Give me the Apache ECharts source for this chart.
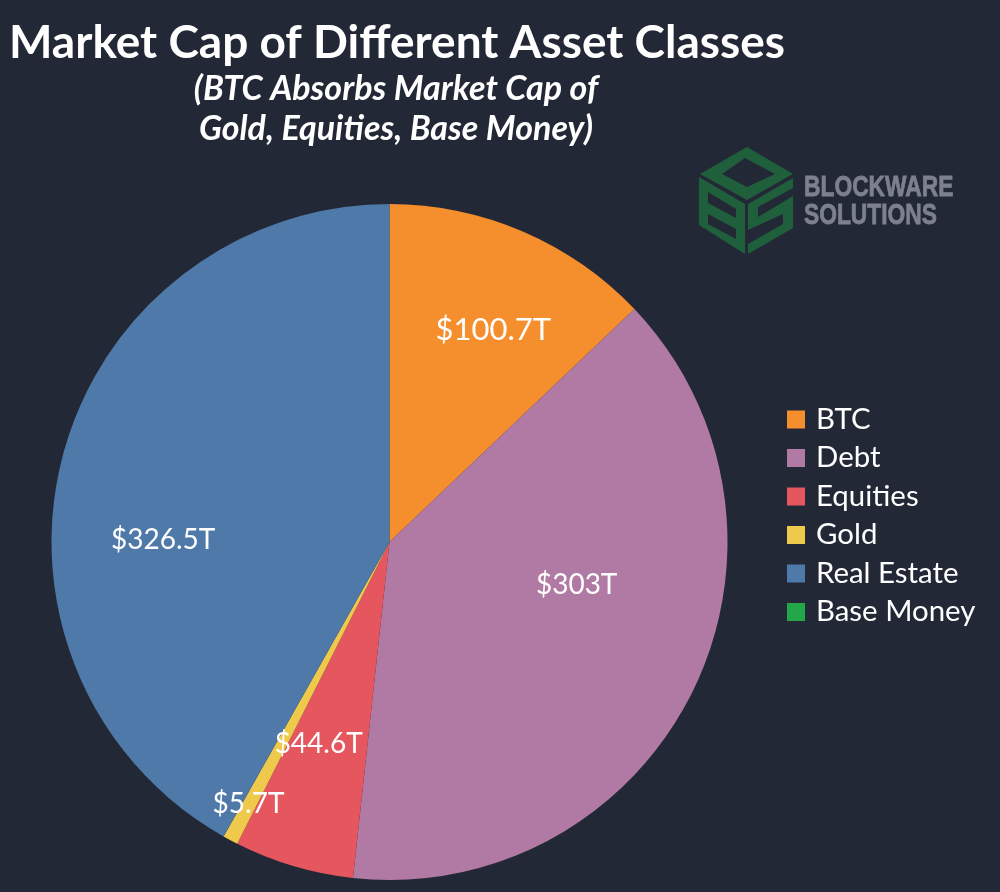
<!DOCTYPE html>
<html>
<head>
<meta charset="utf-8">
<title>Market Cap of Different Asset Classes</title>
<script src="https://cdn.jsdelivr.net/npm/echarts@6/dist/echarts.min.js"></script>
<style>
html, body { margin: 0; padding: 0; background: #232836; }
#chart { width: 1000px; height: 892px; }
</style>
</head>
<body>
<div id="chart"></div>
<script>
var assetNames = ['BTC', 'Debt', 'Equities', 'Gold', 'Real Estate', 'Base Money'];
var assetValues = [100.7, 303, 44.6, 5.7, 326.5, 0];
var assetColors = ['#f58f2e', '#b07aa4', '#e5565e', '#eec94c', '#4e79a9', '#22a84a'];

// label nudges away from the default mid radius spot
var labelShift = {
	'BTC': [36, -54],
	'Debt': [33, -33],
	'Equities': [-22, 37],
	'Gold': [-60, 110],
	'Real Estate': [-60, 42]
};

var logoGreen = '#1f5f3b';
var logoGrey = '#7c808f';
var bg = '#232836';

function poly(points, fill) {
	return { type: 'polygon', shape: { points: points }, style: { fill: fill } };
}

function logoText(text, y, scale) {
	return {
		type: 'text', x: 804, y: y, scaleX: scale,
		style: { text: text, fill: logoGrey, stroke: logoGrey, lineWidth: 0.8, font: 'bold 30px "Liberation Sans"' }
	};
}

var myChart = echarts.init(document.getElementById('chart'));

var option = {
	backgroundColor: bg,
	animation: false,
	title: [
		{
			text: 'Market Cap of Different Asset Classes',
			left: 4,
			top: 15,
			textStyle: { color: '#fff', fontFamily: 'Lato', fontWeight: 'bold', fontSize: 46 }
		},
		{
			text: '(BTC Absorbs Market Cap of\nGold, Equities, Base Money)',
			left: 391,
			top: 64,
			textAlign: 'center',
			textStyle: { color: '#fff', fontFamily: 'Lato', fontWeight: 'bold', fontStyle: 'italic', fontSize: 34, lineHeight: 40, align: 'center' }
		}
	],
	legend: {
		orient: 'vertical',
		left: 782,
		top: 400,
		icon: 'rect',
		itemWidth: 18,
		itemHeight: 18,
		itemGap: 9.5,
		data: assetNames,
		textStyle: { color: '#fff', fontFamily: 'Lato', fontSize: 29.4, padding: [0, 0, 0, 6] }
	},
	series: [{
		type: 'pie',
		radius: 338,
		center: [389.5, 542],
		startAngle: 90,
		data: assetNames.map(function (name, i) {
			return {
				name: name,
				value: assetValues[i],
				itemStyle: { color: assetColors[i] },
				label: { show: assetValues[i] > 0, fontSize: name === 'BTC' ? 31 : 28 }
			};
		}),
		label: {
			position: 'inside',
			formatter: function (p) { return '$' + p.value + 'T'; },
			color: '#fff',
			fontFamily: 'Lato'
		},
		labelLine: { show: false },
		labelLayout: function (p) {
			var s = labelShift[assetNames[p.dataIndex]] || [0, 0];
			return { dx: s[0], dy: s[1] };
		},
		emphasis: { disabled: true }
	}],
	graphic: {
		elements: [
			poly([[747, 147], [793, 174], [747, 200], [700, 174]], logoGreen),
			poly([[722, 174], [745, 158], [775, 174], [747, 187]], bg),
			poly([[699, 177], [745, 204], [745, 254], [699, 225]], logoGreen),
			poly([[708, 192], [736, 209], [736, 218], [708, 203]], bg),
			poly([[708, 214], [736, 229], [736, 239], [708, 224]], bg),
			poly([[748, 204], [793, 178], [793, 228], [748, 254]], logoGreen),
			poly([[758, 207], [793, 188], [793, 196], [758, 217]], bg),
			poly([[748, 230], [783, 214], [783, 224], [748, 244]], bg),
			logoText('BLOCKWARE', 173, 0.76),
			logoText('SOLUTIONS', 201, 0.76)
		]
	}
};

myChart.setOption(option);
</script>
</body>
</html>
